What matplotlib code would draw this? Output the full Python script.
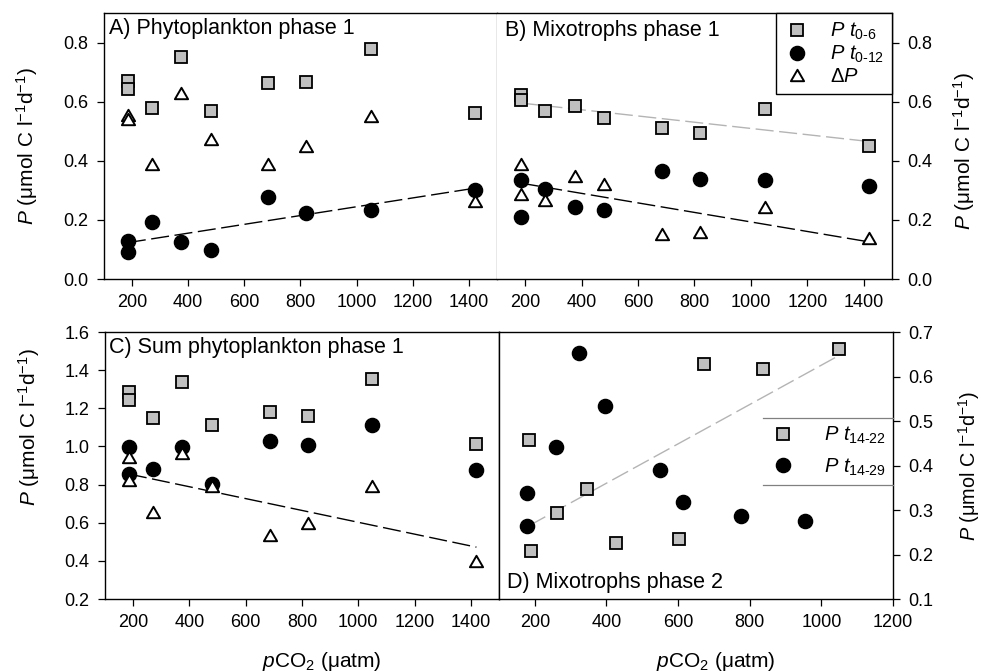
import numpy as np
import matplotlib
matplotlib.use('Agg')
import matplotlib.pyplot as plt
from matplotlib.lines import Line2D
from matplotlib.path import Path
from matplotlib.ticker import FormatStrFormatter

plt.rcParams.update({
    'font.family': ['Liberation Sans', 'DejaVu Sans'],
    'mathtext.fontset': 'custom',
    'mathtext.rm': 'Liberation Sans',
    'mathtext.it': 'Liberation Sans:italic',
    'mathtext.bf': 'Liberation Sans:bold',
})

# ---------------- data ----------------
pco2_p1 = [185, 185, 270, 375, 480, 685, 820, 1050, 1420]

phyto_t06 = [0.671, 0.643, 0.579, 0.750, 0.568, 0.663, 0.668, 0.778, 0.561]
phyto_t012 = [0.130, 0.091, 0.194, 0.125, 0.099, 0.278, 0.224, 0.233, 0.301]
phyto_dP = [0.555, 0.540, 0.388, 0.628, 0.475, 0.390, 0.449, 0.551, 0.264]

mixo_t06 = [0.623, 0.604, 0.567, 0.587, 0.545, 0.512, 0.494, 0.576, 0.449]
mixo_t012 = [0.334, 0.209, 0.303, 0.245, 0.233, 0.366, 0.340, 0.334, 0.315]
mixo_dP = [0.390, 0.287, 0.269, 0.348, 0.320, 0.151, 0.158, 0.245, 0.138]

sum_t06 = [1.283, 1.245, 1.147, 1.336, 1.112, 1.179, 1.159, 1.356, 1.011]
sum_t012 = [0.999, 0.856, 0.882, 0.995, 0.804, 1.030, 1.008, 1.112, 0.877]
sum_dP = [0.947, 0.824, 0.655, 0.967, 0.790, 0.537, 0.601, 0.795, 0.401]

pco2_t1422 = [185, 188, 262, 346, 427, 603, 671, 836, 1049]
mixo_t1422 = [0.457, 0.208, 0.294, 0.347, 0.225, 0.235, 0.627, 0.616, 0.661]
pco2_t1429 = [177, 177, 258, 323, 397, 550, 615, 776, 954]
mixo_t1429 = [0.338, 0.264, 0.441, 0.653, 0.533, 0.391, 0.319, 0.287, 0.276]

titles = ['A) Phytoplankton phase 1', 'B) Mixotrophs phase 1',
          'C) Sum phytoplankton phase 1', 'D) Mixotrophs phase 2']
xticks_p1 = [200, 400, 600, 800, 1000, 1200, 1400]
xticks_p2 = [200, 400, 600, 800, 1000, 1200]
yticks_AB = [0.0, 0.2, 0.4, 0.6, 0.8]
yticks_C = [0.2, 0.4, 0.6, 0.8, 1.0, 1.2, 1.4, 1.6]
yticks_D = [0.1, 0.2, 0.3, 0.4, 0.5, 0.6, 0.7]

ylab = r'$P$ (μmol C l$^{-1}$d$^{-1}$)'
xlab = r'$p$CO$_2$ (μatm)'

# ---------------- styles ----------------
tri_path = Path([(0, 0.866), (-1, -0.866), (1, -0.866), (0, 0.866)], closed=True)
SQ = dict(marker='s', ms=8.3, mfc='#c0c0c0', mec='black', mew=1.3, ls='none')
CI = dict(marker='o', ms=10.2, mfc='black', mec='black', mew=1.0, ls='none')
TR = dict(marker=tri_path, ms=9.5, mfc='white', mec='black', mew=1.4, ls='none')
GRAYLINE = '#b4b4b4'
TICKFS = 13
TITLEFS = 15.5
LABFS = 15

fig = plt.figure(figsize=(9.81, 6.71), dpi=100)
axA = fig.add_axes([0.1060, 0.5842, 0.4006, 0.3964])
axB = fig.add_axes([0.5066, 0.5842, 0.4027, 0.3964])
axC = fig.add_axes([0.1070, 0.1073, 0.4016, 0.3979])
axD = fig.add_axes([0.5087, 0.1073, 0.4016, 0.3979])


def trend(ax, x, y, color):
    x = np.asarray(x, float)
    fit = np.polyfit(x, np.asarray(y, float), 1)
    xs = np.array([x.min(), x.max()])
    ax.plot(xs, np.polyval(fit, xs), color=color, lw=1.0,
            ls=(0, (13, 4)), zorder=1)


def style(ax, xticks, yticks, xlim, ylim):
    ax.set_xlim(*xlim)
    ax.set_ylim(*ylim)
    ax.set_xticks(xticks)
    ax.set_yticks(yticks)
    ax.yaxis.set_major_formatter(FormatStrFormatter('%.1f'))
    ax.tick_params(direction='out', length=5, width=0.9, labelsize=TICKFS, pad=6)
    for s in ax.spines.values():
        s.set_linewidth(1.0)


# Panel A
trend(axA, pco2_p1, phyto_t012, 'black')
axA.plot(pco2_p1, phyto_t06, zorder=3, **SQ)
axA.plot(pco2_p1, phyto_t012, zorder=4, **CI)
axA.plot(pco2_p1, phyto_dP, zorder=5, **TR)
style(axA, xticks_p1, yticks_AB, (100, 1500), (0, 0.9))
axA.spines['right'].set_color('#8c8c8c')
axA.set_ylabel(ylab, fontsize=LABFS)
axA.yaxis.set_label_coords(-0.163, 0.5)

# Panel B
trend(axB, pco2_p1, mixo_t06, GRAYLINE)
trend(axB, pco2_p1, mixo_dP, 'black')
axB.plot(pco2_p1, mixo_t06, zorder=3, **SQ)
axB.plot(pco2_p1, mixo_t012, zorder=4, **CI)
axB.plot(pco2_p1, mixo_dP, zorder=5, **TR)
style(axB, xticks_p1, yticks_AB, (100, 1500), (0, 0.9))
axB.spines['left'].set_visible(False)
axB.yaxis.tick_right()
axB.yaxis.set_label_position('right')
axB.set_ylabel(ylab, fontsize=LABFS, rotation=90)
axB.yaxis.set_label_coords(1.150, 0.48)
legB = axB.legend([Line2D([], [], **SQ), Line2D([], [], **CI), Line2D([], [], **TR)],
                  [r'$P\ t_{0\text{-}6}$', r'$P\ t_{0\text{-}12}$', r'Δ$P$'],
                  loc='upper right', bbox_to_anchor=(1, 1), borderaxespad=0,
                  frameon=True, fancybox=False, edgecolor='black', framealpha=1,
                  fontsize=14.5, handletextpad=1.0, labelspacing=0.08,
                  borderpad=0.4, handlelength=1.3)
legB.get_frame().set_linewidth(1.0)

# Panel C
trend(axC, pco2_p1, sum_dP, 'black')
axC.plot(pco2_p1, sum_t06, zorder=3, **SQ)
axC.plot(pco2_p1, sum_t012, zorder=4, **CI)
axC.plot(pco2_p1, sum_dP, zorder=5, **TR)
style(axC, xticks_p1, yticks_C, (100, 1500), (0.2, 1.6))
axC.set_ylabel(ylab, fontsize=LABFS)
axC.yaxis.set_label_coords(-0.160, 0.644)
axC.set_xlabel(xlab, fontsize=LABFS)
axC.xaxis.set_label_coords(0.551, -0.190)

# Panel D
trend(axD, pco2_t1422, mixo_t1422, GRAYLINE)
axD.plot(pco2_t1422, mixo_t1422, zorder=3, **SQ)
axD.plot(pco2_t1429, mixo_t1429, zorder=4, **CI)
style(axD, xticks_p2, yticks_D, (100, 1200), (0.1, 0.7))
axD.yaxis.tick_right()
axD.yaxis.set_label_position('right')
axD.set_ylabel(ylab, fontsize=14.3, rotation=90)
axD.yaxis.set_label_coords(1.160, 0.5)
axD.set_xlabel(xlab, fontsize=LABFS)
axD.xaxis.set_label_coords(0.551, -0.190)
legD = axD.legend([Line2D([], [], **SQ), Line2D([], [], **CI)],
                  [r'$P\ t_{14\text{-}22}$', r'$P\ t_{14\text{-}29}$'],
                  loc='upper right', bbox_to_anchor=(1, 0.678), borderaxespad=0,
                  frameon=False, fontsize=14.5, handletextpad=1.4,
                  labelspacing=0.5, borderpad=0.35, handlelength=1.3)

# titles
for ax, t, (tx, ty) in zip([axA, axB, axC, axD], titles,
                           [(0.012, 0.921), (0.02, 0.914), (0.01, 0.922), (0.02, 0.041)]):
    ax.text(tx, ty, t, transform=ax.transAxes, fontsize=TITLEFS,
            ha='left', va='baseline', zorder=10)

# legend D top/bottom rule lines, derived from the legend box
fig.canvas.draw()
bb = legD.get_window_extent().transformed(axD.transAxes.inverted())
for yy in (bb.y0, bb.y1):
    axD.plot([bb.x0, 1.0], [yy, yy], transform=axD.transAxes, color='#808080',
             lw=0.9, clip_on=False, zorder=6)

fig.savefig('out.png', dpi=100)
